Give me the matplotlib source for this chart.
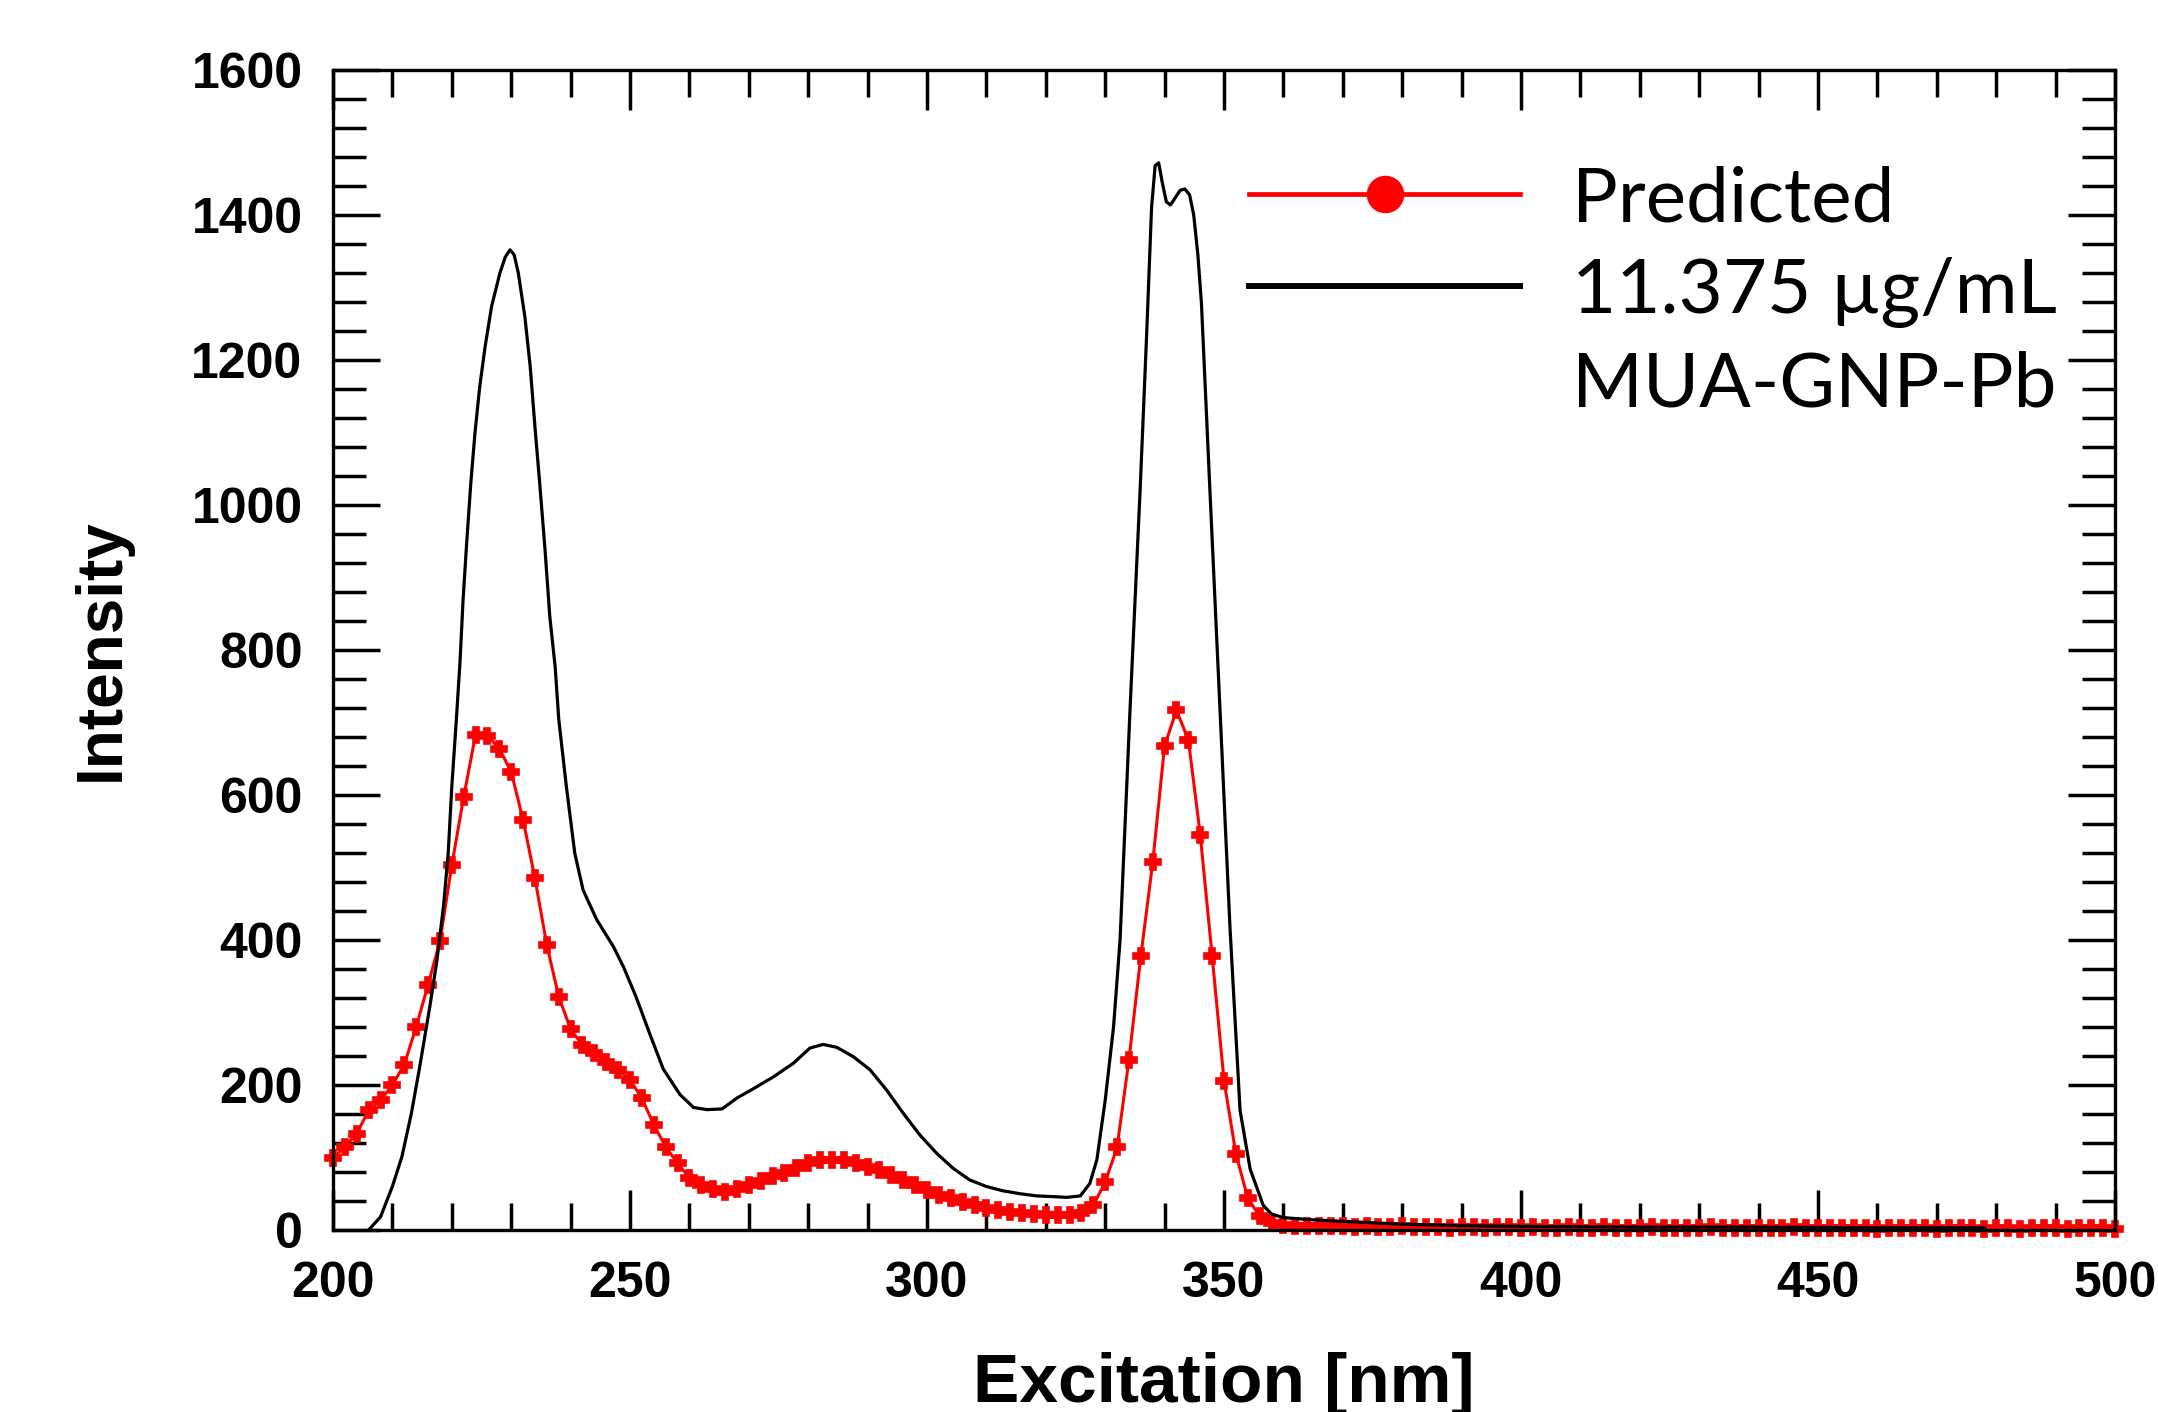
import numpy as np
import matplotlib.pyplot as plt
from matplotlib.lines import Line2D
from matplotlib.ticker import MultipleLocator

# Predicted spectrum, one point every 2 nm from 200 to 500 nm
wavelength = np.arange(200, 502, 2)
predicted = [
    99, 115, 133, 165, 179, 200, 228, 280, 338, 398,
    503, 597, 683, 682, 664, 632, 566, 485, 393, 322,
    277, 255, 244, 232, 221, 207,
    182, 145, 115, 92, 72, 62, 57, 53, 57, 62,
    67, 74, 79, 85, 92, 96, 97, 96, 92, 87,
    83, 76, 69, 62, 55,
    48, 44, 39, 34, 30, 27, 25, 23, 22, 21,
    21, 21, 23, 34, 66, 114, 235, 378, 507, 668,
    717, 676, 545, 378, 206,
    105, 44, 19, 10, 7,
    6, 6, 5, 5, 5,
    4, 5, 4, 4, 5, 4, 4, 4, 3, 4,
    4, 3, 4, 4, 3,
    4, 3, 3, 4, 3, 3, 4, 3, 3, 3,
    4, 3, 3, 3, 3, 4, 3, 3, 3, 3,
    3, 3, 4, 3, 3, 3, 3, 3, 3, 2,
    3, 3, 3, 3, 2, 3, 3, 3, 2, 3,
    3, 2, 3, 3, 3, 2, 3, 3, 3, 2,
]

# Measured spectrum (11.375 ug/mL MUA-GNP-Pb)
measured_x = [
    206, 208, 210, 211.6, 213.2, 214.6, 216.3, 217.5, 218.6, 219.4,
    220.0, 220.8, 221.4, 221.9, 222.5, 223.2, 223.9, 224.7, 225.6, 226.7,
    228.1, 229.0, 229.8, 230.5, 231.2, 232.3, 233.2, 234.0, 234.8, 235.7,
    236.5, 237.4, 238.0, 239.3, 240.7, 242.1, 244.4, 247.2, 248.9, 251.0,
    253.4, 255.6, 258.4, 260.7, 263.0, 265.5, 268.0, 270.8, 274.1, 277.5,
    280.3, 282.5, 284.8, 287.6, 290.4, 293.2, 296.0, 298.8, 301.6, 304.4,
    307.2, 310.0, 312.8, 315.7, 318.5, 321.3, 323.5, 325.8, 327.4, 328.6,
    330.0, 331.4, 332.5, 334.2, 335.9, 337.0, 337.8, 338.4, 339.0, 339.6,
    340.3, 341.0, 341.8, 342.6, 343.4, 344.2, 344.9, 345.6, 346.2, 347.6,
    349.3, 351.0, 352.7, 354.4, 356.6, 358.0,
    360, 365, 370, 375, 380, 390, 400, 420, 440, 460, 478,
]
measured_y = [
    0, 18, 60, 101, 161, 225, 308, 372, 446, 520,
    611, 708, 786, 869, 947, 1030, 1099, 1163, 1218, 1274,
    1320, 1342, 1352, 1345, 1320, 1260, 1191, 1108, 1030, 938,
    846, 777, 705, 611, 520, 469, 428, 391, 363, 322,
    269, 222, 187, 169, 166, 167, 182, 195, 211, 230,
    251, 256, 252, 239, 221, 193, 161, 131, 106, 85,
    69, 60, 54, 50, 47, 46, 45, 47, 64, 97,
    179, 280, 400, 722, 1025, 1240, 1410, 1468, 1472, 1445,
    1418, 1414, 1424, 1434, 1436, 1428, 1400, 1345, 1278, 1025,
    722, 418, 165, 84, 34, 22,
    17, 14, 12, 10, 8, 6, 5, 4, 4, 3, 3,
]

legend_labels = ["Predicted", "11.375 µg/mL", "MUA-GNP-Pb"]

fig = plt.figure(figsize=(21.58, 14.12), dpi=100)
ax = fig.add_axes([0.1543, 0.1289, 0.8258, 0.8215])

ax.plot(wavelength, predicted, color='red', lw=2.2, marker='P', ms=12,
        mec='red', mew=1.2, clip_on=False, zorder=2)
ax.plot(measured_x, measured_y, color='black', lw=2.3, zorder=3)

ax.set_xlim(200, 500)
ax.set_ylim(0, 1600)
ax.xaxis.set_major_locator(MultipleLocator(50))
ax.xaxis.set_minor_locator(MultipleLocator(10))
ax.yaxis.set_major_locator(MultipleLocator(200))
ax.yaxis.set_minor_locator(MultipleLocator(40))

for s in ax.spines.values():
    s.set_linewidth(2.4)

ax.tick_params(which='both', direction='in', top=True, right=True, width=2.5)
ax.tick_params(axis='x', which='major', length=29, pad=22)
ax.tick_params(axis='x', which='minor', length=19.5)
ax.tick_params(axis='y', which='major', length=34, pad=22)
ax.tick_params(axis='y', which='minor', length=24)

for lab in ax.get_xticklabels() + ax.get_yticklabels():
    lab.set_family('Liberation Sans')
    lab.set_fontweight('bold')
    lab.set_fontsize(36)

ax.set_xlabel('Excitation [nm]', family='Liberation Sans', fontweight='bold',
              fontsize=50)
ax.set_ylabel('Intensity', family='Liberation Sans', fontweight='bold',
              fontsize=46)
ax.xaxis.set_label_coords(0.5, -0.105)
ax.yaxis.set_label_coords(-0.113, 0.5)

handles = [
    Line2D([], [], color='red', lw=3.4, marker='o', ms=26),
    Line2D([], [], color='black', lw=4.3),
    Line2D([], [], color='none'),
]
ax.legend(handles, legend_labels, loc='upper left', bbox_to_anchor=(0.514, 0.918),
          frameon=False, borderpad=0, borderaxespad=0, handlelength=3.55,
          handletextpad=0.68, labelspacing=0.3, numpoints=1,
          prop={'family': 'Lato', 'size': 55})

fig.savefig('out.png', dpi=100)
